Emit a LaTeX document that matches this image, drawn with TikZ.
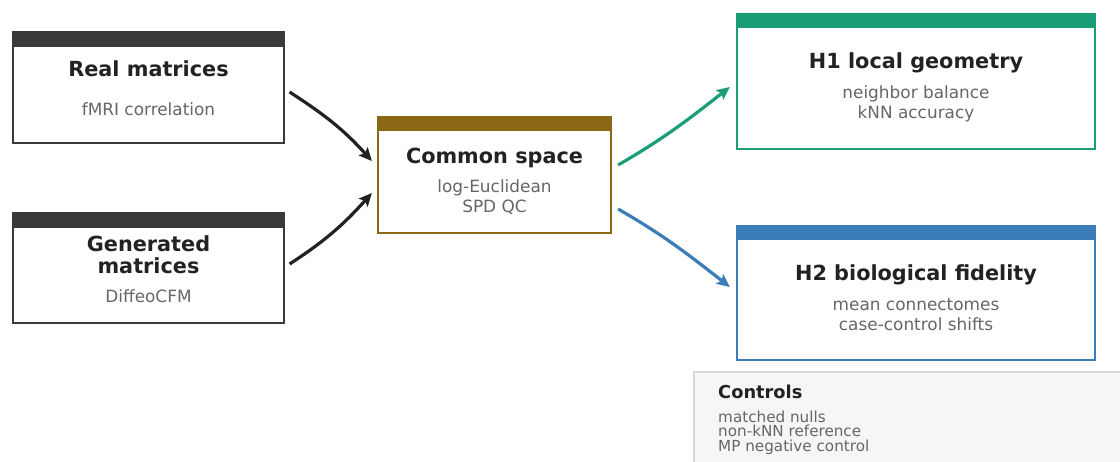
\documentclass[tikz,border=0pt]{standalone}
\usepackage{fontspec}
\setmainfont{DejaVu Sans}
\usetikzlibrary{arrows.meta}
\definecolor{dk}{HTML}{3A3A3A}
\definecolor{txt}{HTML}{222222}
\definecolor{gry}{HTML}{666666}
\definecolor{brn}{HTML}{8B6914}
\definecolor{grn}{HTML}{1B9E77}
\definecolor{blu}{HTML}{3A7DB8}
\definecolor{ctlfill}{HTML}{F6F6F6}
\definecolor{ctlline}{HTML}{D8D8D8}
\begin{document}
\begin{tikzpicture}[x=1pt,y=-1pt,
  box/.style={draw, line width=2.2pt, fill=white, inner sep=0pt},
  ttl/.style={anchor=base, text=txt, inner sep=0pt, font=\fontsize{20.8}{24}\selectfont\bfseries},
  sub/.style={anchor=base, text=gry, inner sep=0pt, font=\fontsize{16.9}{20}\selectfont},
  ctl/.style={anchor=base west, text=gry, inner sep=0pt, font=\fontsize{15.2}{18}\selectfont},
  arr/.style={line width=3.2pt, -{Stealth[length=13pt,width=12pt,inset=2.5pt]}}]
\useasboundingbox (0,0) rectangle (1120,462);
\clip (0,0) rectangle (1120,462);

% boxes
\node[box, draw=dk, minimum width=271pt, minimum height=111pt] (real) at (148.5,87.5) {};
\fill[dk] (real.north west) rectangle ([yshift=-16pt]real.north east);
\node[box, draw=dk, minimum width=271pt, minimum height=110pt] (gen) at (148.5,268) {};
\fill[dk] (gen.north west) rectangle ([yshift=-16pt]gen.north east);
\node[box, draw=brn, minimum width=233pt, minimum height=116pt] (com) at (494.5,175) {};
\fill[brn] (com.north west) rectangle ([yshift=-15pt]com.north east);
\node[box, draw=grn, minimum width=358pt, minimum height=135pt] (hone) at (916,81.5) {};
\fill[grn] (hone.north west) rectangle ([yshift=-15pt]hone.north east);
\node[box, draw=blu, minimum width=358pt, minimum height=134pt] (htwo) at (916,293) {};
\fill[blu] (htwo.north west) rectangle ([yshift=-15pt]htwo.north east);
\node[draw=ctlline, fill=ctlfill, line width=1.8pt, minimum width=460pt, minimum height=120pt, inner sep=0pt] (ctlbox) at (924,432) {};

% texts
\node[ttl] (realt) at (148.5,77) {Real matrices};
\node[sub] (reals) at (148.5,116) {fMRI correlation};
\node[ttl] (gent1) at (148.5,252) {Generated};
\node[ttl] (gent2) at (148.5,274) {matrices};
\node[sub] (gens) at (148.5,303) {DiffeoCFM};
\node[ttl] (comt) at (494.5,164) {Common space};
\node[sub] (coms1) at (494.5,193) {log-Euclidean};
\node[sub] (coms2) at (494.5,213) {SPD QC};
\node[ttl] (honet) at (916,69) {H1 local geometry};
\node[sub] (hones1) at (916,99) {neighbor balance};
\node[sub] (hones2) at (916,119) {kNN accuracy};
\node[ttl] (htwot) at (916,281) {H2 biological fidelity};
\node[sub] (htwos1) at (916,311) {mean connectomes};
\node[sub] (htwos2) at (916,331) {case-control shifts};
\node[anchor=base west, text=txt, inner sep=0pt, font=\fontsize{17.8}{20}\selectfont\bfseries] (ctlt) at (718,399) {Controls};
\node[ctl] (c1) at (718,423) {matched nulls};
\node[ctl] (c2) at (718,437) {non-kNN reference};
\node[ctl] (c3) at (718,452) {MP negative control};

% arrows
\draw[arr, draw=txt] ([xshift=4.5pt,yshift=-4.5pt]real.east) to[out=-33,in=132] ([xshift=-5pt,yshift=14pt]com.west);
\draw[arr, draw=txt] ([xshift=4.5pt,yshift=4pt]gen.east) to[out=33,in=-132] ([xshift=-5pt,yshift=-18pt]com.west);
\draw[arr, draw=grn] ([xshift=6pt,yshift=10pt]com.east) to[out=30,in=-142] ([xshift=-6pt,yshift=-5.5pt]hone.west);
\draw[arr, draw=blu] ([xshift=6pt,yshift=-34pt]com.east) to[out=-30,in=142] ([xshift=-6pt,yshift=6pt]htwo.west);
\end{tikzpicture}
\end{document}
